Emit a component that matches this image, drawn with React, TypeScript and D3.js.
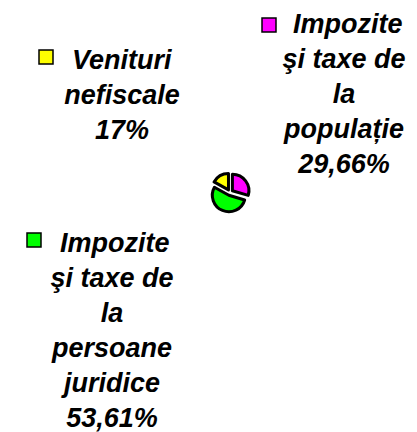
import React from "react";
import * as d3 from "d3";

const categories = [
  "Impozite şi taxe de la populație",
  "Impozite şi taxe de la persoane juridice",
  "Venituri nefiscale",
];
const values = [29.66, 53.61, 17];
const colors = ["#FF00FF", "#00FF00", "#FFFF00"];
const labelLines = [
  ["Impozite", "şi taxe de", "la", "populație", "29,66%"],
  ["Impozite", "şi taxe de", "la", "persoane", "juridice", "53,61%"],
  ["Venituri", "nefiscale", "17%"],
];

const W = 417;
const H = 432;
const FONT = "'Liberation Sans', Arial, sans-serif";

// layout of the label blocks (per category)
const blocks = [
  { cx: 344, firstX: 293, y0: 33, sq: [262, 18] },
  { cx: 112, firstX: 60, y0: 252, sq: [27, 233] },
  { cx: 122, firstX: 72, y0: 69, sq: [39, 50] },
];
const LINE = 35;

export default function App() {
  const pieCx = 230;
  const pieCy = 192.5;
  const r = 16.5;
  const explode = 3;
  const pie = d3.pie<number>().sort(null).value((d) => d);
  const arcs = pie(values);
  const arc = d3.arc<d3.PieArcDatum<number>>().innerRadius(0).outerRadius(r);

  return (
    <svg
      width={W}
      height={H}
      style={{ position: "absolute", left: 0, top: 0, background: "#fff" }}
    >
      <rect x={0} y={0} width={W} height={H} fill="#fff" />
      <g transform={`translate(${pieCx},${pieCy})`}>
        {arcs.map((a, i) => {
          const mid = (a.startAngle + a.endAngle) / 2;
          const dx = Math.sin(mid) * explode;
          const dy = -Math.cos(mid) * explode;
          return (
            <path
              key={i}
              d={arc(a) || ""}
              transform={`translate(${dx},${dy})`}
              fill={colors[i]}
              stroke="#000"
              strokeWidth={3}
              strokeLinejoin="round"
            />
          );
        })}
      </g>
      {categories.map((c, i) => {
        const b = blocks[i];
        return (
          <g key={c}>
            <rect
              x={b.sq[0]}
              y={b.sq[1]}
              width={14}
              height={14}
              fill={colors[i]}
              stroke="#000"
              strokeWidth={1.5}
            />
            {labelLines[i].map((t, j) => (
              <text
                key={j}
                x={j === 0 ? b.firstX : b.cx}
                y={b.y0 + j * LINE}
                textAnchor={j === 0 ? "start" : "middle"}
                fontFamily={FONT}
                fontWeight="bold"
                fontStyle="italic"
                fontSize={27}
                fill="#000"
              >
                {t}
              </text>
            ))}
          </g>
        );
      })}
    </svg>
  );
}
